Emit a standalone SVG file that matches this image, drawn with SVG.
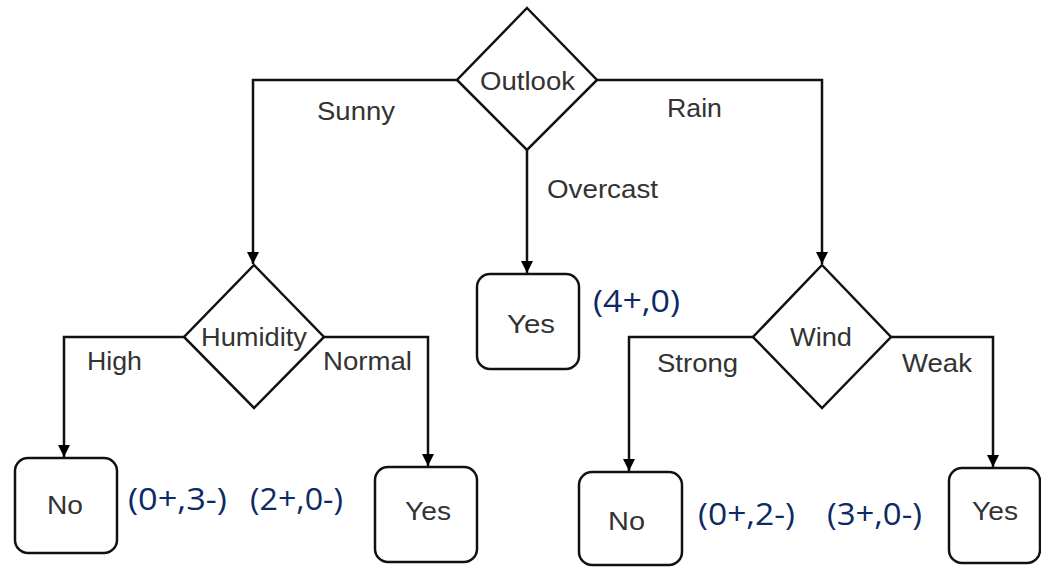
<svg xmlns="http://www.w3.org/2000/svg" width="1041" height="567" viewBox="0 0 1041 567">
<defs>
<marker id="arr" viewBox="0 0 10 10" refX="10" refY="5" markerWidth="18" markerHeight="12" markerUnits="userSpaceOnUse" orient="auto">
<path d="M0,0 L10,5 L0,10 Z" fill="#000"/>
</marker>
<style>
.shape{fill:#fff;stroke:#111;stroke-width:2.5}
.box{fill:#fff;stroke:#111;stroke-width:2.5}
.lbl{font-family:"Liberation Sans",Arial,sans-serif;font-size:26px;fill:#333}
.cnt{font-family:"Open Sans","Noto Sans",sans-serif;font-size:31px;fill:#0e2a66}
.edge{fill:none;stroke:#111;stroke-width:2.5}
</style>
</defs>
<rect width="1041" height="567" fill="#fff"/>
<g id="connectors">
<polyline class="edge" points="457,80 253,80 253,264" marker-end="url(#arr)"/>
<polyline class="edge" points="597,80 822,80 822,264" marker-end="url(#arr)"/>
<polyline class="edge" points="527,150 527,273" marker-end="url(#arr)"/>
<polyline class="edge" points="184,337 64,337 64,457" marker-end="url(#arr)"/>
<polyline class="edge" points="324,337 428,337 428,466" marker-end="url(#arr)"/>
<polyline class="edge" points="753,337 629,337 629,471" marker-end="url(#arr)"/>
<polyline class="edge" points="891,337 993,337 993,467" marker-end="url(#arr)"/>
<text class="lbl" x="317" y="120" textLength="78" lengthAdjust="spacingAndGlyphs">Sunny</text>
<text class="lbl" x="667" y="117" textLength="55" lengthAdjust="spacingAndGlyphs">Rain</text>
<text class="lbl" x="547" y="198" textLength="111" lengthAdjust="spacingAndGlyphs">Overcast</text>
<text class="lbl" x="87" y="370" textLength="55" lengthAdjust="spacingAndGlyphs">High</text>
<text class="lbl" x="323" y="370" textLength="89" lengthAdjust="spacingAndGlyphs">Normal</text>
<text class="lbl" x="657" y="372" textLength="81" lengthAdjust="spacingAndGlyphs">Strong</text>
<text class="lbl" x="902" y="372" textLength="70" lengthAdjust="spacingAndGlyphs">Weak</text>
</g>
<g id="outlook">
<polygon class="shape" points="527,8 597,80 527,150 457,80"/>
<text class="lbl" x="480" y="90" textLength="95" lengthAdjust="spacingAndGlyphs">Outlook</text>
</g>
<g id="humidity">
<polygon class="shape" points="254,265 324,337 254,408 184,337"/>
<text class="lbl" x="201" y="346" textLength="106" lengthAdjust="spacingAndGlyphs">Humidity</text>
</g>
<g id="wind">
<polygon class="shape" points="822,265 891,337 822,408 753,337"/>
<text class="lbl" x="790" y="346" textLength="62" lengthAdjust="spacingAndGlyphs">Wind</text>
</g>
<g id="yes-overcast">
<rect class="box" x="477" y="274" width="102" height="95" rx="13"/>
<text class="lbl" x="507" y="333" textLength="48" lengthAdjust="spacingAndGlyphs">Yes</text>
<text class="cnt" x="593" y="312" textLength="87" lengthAdjust="spacingAndGlyphs">(4+,0)</text>
</g>
<g id="no-high">
<rect class="box" x="15" y="458" width="102" height="95" rx="13"/>
<text class="lbl" x="47" y="514" textLength="36" lengthAdjust="spacingAndGlyphs">No</text>
<text class="cnt" x="128" y="510" textLength="99" lengthAdjust="spacingAndGlyphs">(0+,3-)</text>
</g>
<g id="yes-normal">
<rect class="box" x="375" y="467" width="102" height="95" rx="13"/>
<text class="lbl" x="405" y="520" textLength="46" lengthAdjust="spacingAndGlyphs">Yes</text>
<text class="cnt" x="250" y="510" textLength="93" lengthAdjust="spacingAndGlyphs">(2+,0-)</text>
</g>
<g id="no-strong">
<rect class="box" x="579" y="472" width="103" height="93" rx="13"/>
<text class="lbl" x="608" y="530" textLength="37" lengthAdjust="spacingAndGlyphs">No</text>
<text class="cnt" x="698" y="525" textLength="97" lengthAdjust="spacingAndGlyphs">(0+,2-)</text>
</g>
<g id="yes-weak">
<rect class="box" x="949" y="468" width="91" height="95" rx="13"/>
<text class="lbl" x="972" y="520" textLength="46" lengthAdjust="spacingAndGlyphs">Yes</text>
<text class="cnt" x="827" y="525" textLength="95" lengthAdjust="spacingAndGlyphs">(3+,0-)</text>
</g>
</svg>
